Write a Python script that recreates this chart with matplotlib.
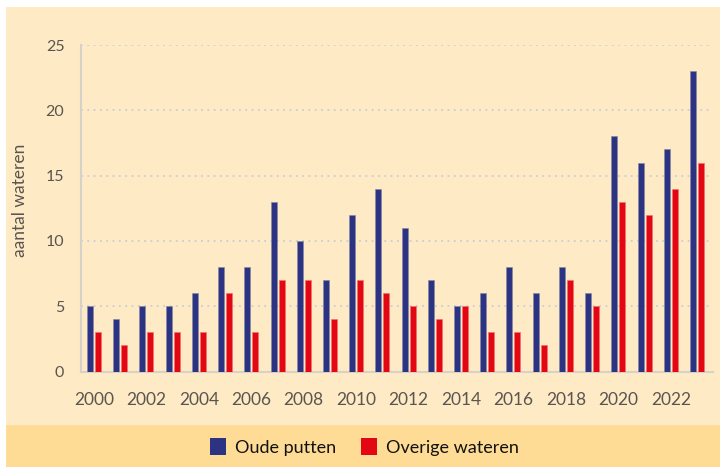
import matplotlib

matplotlib.use("Agg")

import numpy as np
import matplotlib.pyplot as plt
from matplotlib.patches import Rectangle, Patch

plt.rcParams["font.family"] = ["Lato", "DejaVu Sans"]

# data
years = np.arange(2000, 2024)
oude_putten = [5, 4, 5, 5, 6, 8, 8, 13, 10, 7, 12, 14, 11, 7, 5, 6, 8, 6, 8, 6, 18, 16, 17, 23]
overige_wateren = [3, 2, 3, 3, 3, 6, 3, 7, 7, 4, 7, 6, 5, 4, 5, 3, 3, 2, 7, 5, 13, 12, 14, 16]
series_labels = ["Oude putten", "Overige wateren"]
y_ticks = [0, 5, 10, 15, 20, 25]
x_tick_years = np.arange(2000, 2023, 2)

blue = "#2B3382"
red = "#E30613"
panel = "#FEEAC5"
band = "#FEDC95"
text_grey = "#5A5550"

fig = plt.figure(figsize=(7.2, 4.67), dpi=100, facecolor="white")

# background panels
fig.patches.append(Rectangle((6 / 720, 42 / 467), 1, 1 - 7 / 467 - 42 / 467,
                             transform=fig.transFigure, facecolor=panel, edgecolor="none", zorder=-10))
fig.patches.append(Rectangle((6 / 720, 0), 1, 42 / 467,
                             transform=fig.transFigure, facecolor=band, edgecolor="none", zorder=-10))

ax = fig.add_axes([81 / 720, 1 - 371.5 / 467, (712.7 - 81) / 720, (371.5 - 45) / 467])
ax.set_facecolor("none")

x = years - 2000
w = 0.229
ax.bar(x - 0.153, oude_putten, width=w, color=blue, edgecolor="#8088AA", linewidth=0.4, zorder=3)
ax.bar(x + 0.153, overige_wateren, width=w, color=red, edgecolor="#F07070", linewidth=0.4, zorder=3)

ax.set_xlim(-0.496, 23.6)
ax.set_ylim(0, 25)
ax.set_yticks(y_ticks)
ax.set_xticks(x_tick_years - 2000)
ax.set_xticklabels([str(y) for y in x_tick_years])
ax.tick_params(axis="both", length=0, colors=text_grey)
ax.tick_params(axis="x", pad=15, labelsize=12.5)
ax.tick_params(axis="y", pad=12, labelsize=11.5)

for t in y_ticks[1:]:
    ax.axhline(t, color="#C9CDD8", linewidth=1.3, linestyle=(0, (1, 2.5)), zorder=1)

for side in ["top", "right"]:
    ax.spines[side].set_visible(False)
for side in ["left", "bottom"]:
    ax.spines[side].set_color("#D6D2C8")
    ax.spines[side].set_linewidth(1.5)

ax.set_ylabel("aantal wateren", fontsize=12.5, color=text_grey)
ax.yaxis.set_label_coords(-0.084, 0.524)

handles = [Patch(facecolor=blue), Patch(facecolor=red)]
fig.legend(handles, series_labels, loc="center", bbox_to_anchor=(364.5 / 720, 1 - 447 / 467),
           ncol=2, frameon=False, fontsize=13, handlelength=0.85, handleheight=1.0,
           handletextpad=0.5, columnspacing=1.4, labelcolor="#111111")

fig.savefig("out.png", dpi=100, facecolor="white")
